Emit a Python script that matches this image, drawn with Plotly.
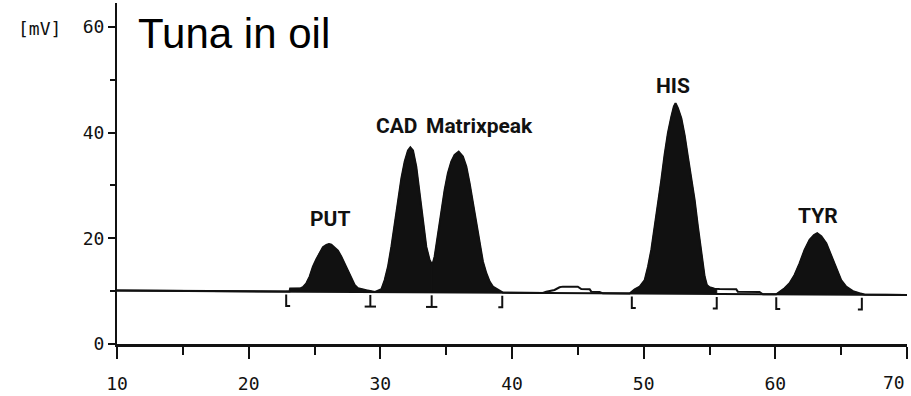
import numpy as np
import plotly.graph_objects as go

# Detector trace: retention time (min) and signal (mV)
time_min = [
    10.0, 23.1, 23.15, 23.95, 24.12, 24.38, 24.63, 24.88, 25.14, 25.39, 25.64,
    25.9, 26.1, 26.28, 26.53, 26.78, 27.04, 27.29, 27.54, 27.8, 28.05, 28.3,
    28.56, 28.94, 29.6, 30.08, 30.33, 30.58, 30.84, 31.09, 31.34, 31.6, 31.85,
    32.1, 32.28, 32.48, 32.73, 32.98, 33.24, 33.49, 33.74, 33.95, 34.12, 34.37,
    34.63, 34.88, 35.13, 35.39, 35.64, 35.95, 36.27, 36.53, 36.78, 37.03, 37.29,
    37.54, 37.79, 38.05, 38.3, 38.55, 38.93, 39.31, 42.35, 42.6, 43.23, 43.61,
    43.86, 45.0, 45.26, 45.9, 46.02, 46.65, 46.9, 48.93, 49.32, 49.7, 50.08,
    50.33, 50.58, 50.83, 51.08, 51.34, 51.59, 51.84, 52.1, 52.29, 52.42, 52.6,
    52.86, 53.11, 53.36, 53.62, 53.87, 54.12, 54.38, 54.63, 54.8, 55.0, 55.38,
    55.76, 57.03, 57.15, 58.8, 59.05, 60.07, 60.32, 60.7, 61.08, 61.46, 61.84,
    62.22, 62.6, 62.93, 63.18, 63.49, 63.87, 64.25, 64.63, 65.0, 65.38, 65.89,
    66.39, 66.77, 70.0,
]
signal_mv = [
    10.1, 9.95, 10.5, 10.55, 10.73, 11.48, 12.74, 14.63, 16.02, 17.28, 18.29,
    18.73, 18.92, 18.8, 18.29, 17.65, 16.52, 15.27, 14.0, 12.43, 11.16, 10.54,
    10.35, 10.16, 9.83, 10.35, 12.1, 14.6, 18.4, 22.8, 27.2, 31.35, 34.5,
    36.6, 37.2, 36.6, 33.55, 28.5, 22.8, 18.4, 15.9, 14.95, 16.5, 20.95,
    25.35, 29.1, 32.3, 34.5, 35.75, 36.4, 35.45, 33.55, 30.4, 26.6, 22.8,
    19.05, 15.6, 13.4, 11.8, 10.85, 10.2, 9.72, 9.64, 9.9, 10.22, 10.73,
    10.85, 10.85, 10.4, 10.35, 9.9, 9.84, 9.58, 9.57, 10.35, 10.85, 12.1,
    14.6, 17.8, 21.9, 26.3, 31.0, 35.8, 39.9, 43.0, 44.9, 45.55, 44.6,
    42.7, 39.5, 35.4, 31.35, 27.25, 22.2, 17.15, 12.75, 11.16, 10.73, 10.46,
    10.4, 10.35, 9.9, 9.85, 9.42, 9.42, 9.9, 10.54, 11.48, 13.06, 15.27,
    17.8, 19.7, 20.6, 20.95, 20.4, 19.05, 16.8, 14.3, 12.1, 10.85, 10.0,
    9.6, 9.35, 9.25,
]

# Straight baseline under the integrated peaks
baseline_time = [10.0, 70.0]
baseline_mv = [10.1, 9.25]

# Integrated peaks: name, window and label anchor
peak_names = ["PUT", "CAD", "Matrixpeak", "HIS", "TYR"]
window_start = [22.85, 29.24, 33.9, 49.1, 60.07]
window_end = [29.24, 33.9, 39.26, 55.55, 66.57]
label_time = [26.15, 31.88, 37.96, 52.2, 63.24]
label_mv = [23.65, 41.15, 41.15, 48.8, 24.2]

# Integration marks drawn under the baseline
mark_time = [22.85, 29.24, 33.9, 39.26, 49.1, 55.55, 60.07, 66.57]
mark_kind = ["start", "split", "split", "end", "start", "end", "start", "end"]

# Axis ticks
x_ticks = [10, 20, 30, 40, 50, 60, 70]
y_ticks = [0, 20, 40, 60]

INK = "#111111"
LABEL_FONT = "Roboto, Liberation Sans, Arial"
TICK_FONT = dict(family="DejaVu Sans Mono", size=18, color=INK)
t = np.array(time_min)
s = np.array(signal_mv)


def base_at(x):
    return np.interp(x, baseline_time, baseline_mv)


fig = go.Figure()

# Filled area between signal and baseline for each integration window
for ws, we in zip(window_start, window_end):
    inside = (t > ws) & (t < we)
    xs = [ws, ws] + t[inside].tolist() + [we, we]
    ys = [base_at(ws), np.interp(ws, t, s)] + s[inside].tolist() + [np.interp(we, t, s), base_at(we)]
    fig.add_trace(go.Scatter(x=xs, y=ys, mode="lines", fill="toself",
                             fillcolor=INK, line=dict(color=INK, width=1),
                             hoverinfo="skip", showlegend=False))

# Signal trace
fig.add_trace(go.Scatter(x=time_min, y=signal_mv, mode="lines",
                         line=dict(color=INK, width=2), showlegend=False))

# Baseline
fig.add_trace(go.Scatter(x=baseline_time, y=baseline_mv, mode="lines",
                         line=dict(color=INK, width=2), showlegend=False))

# Integration marks
mx, my = [], []
for tm, kind in zip(mark_time, mark_kind):
    top = base_at(tm) - 0.55
    bot = base_at(tm) - 2.75
    if kind == "start":
        mx += [tm, tm, tm + 0.3, None]
        my += [top, bot, bot, None]
    elif kind == "end":
        mx += [tm, tm, tm - 0.3, None]
        my += [top, bot, bot, None]
    else:
        mx += [tm, tm, None, tm - 0.43, tm + 0.43, None]
        my += [top, bot, None, bot, bot, None]
fig.add_trace(go.Scatter(x=mx, y=my, mode="lines",
                         line=dict(color=INK, width=2), showlegend=False,
                         hoverinfo="skip"))

# Peak names (the two close labels are anchored on their facing edges)
anchors = {"CAD": ("right", 33.03), "Matrixpeak": ("left", 33.33)}
for name, lt, lv in zip(peak_names, label_time, label_mv):
    xa, xpos = anchors.get(name, ("center", lt))
    fig.add_annotation(x=xpos, y=lv, text=f"<b>{name}</b>", showarrow=False,
                       xanchor=xa, yanchor="middle",
                       font=dict(family=LABEL_FONT, size=21, color=INK))

# Sample title and unit
fig.add_annotation(x=11.42, y=58.7, text="Tuna in oil", showarrow=False,
                   xanchor="left", yanchor="middle",
                   font=dict(family="Liberation Sans, Arial", size=42, color="#000000"))
fig.add_annotation(xref="paper", yref="y", x=-0.098, y=59.6, text="[mV]",
                   showarrow=False, xanchor="center", yanchor="middle",
                   font=dict(family="DejaVu Sans Mono", size=18, color=INK))

# The last time label sits flush against its tick at the right edge
tick_text = [str(v) for v in x_ticks]
tick_text[-1] = ""
fig.add_annotation(x=x_ticks[-1], xref="x", yref="paper", y=-0.114,
                   text=str(x_ticks[-1]), showarrow=False,
                   xanchor="right", yanchor="middle", font=TICK_FONT)

fig.update_xaxes(range=[10, 70], tickvals=x_ticks, ticktext=tick_text,
                 ticks="outside", ticklen=12, tickwidth=2, tickcolor=INK,
                 showline=True, linewidth=2.5, linecolor=INK,
                 showgrid=False, zeroline=False, ticklabelstandoff=10,
                 automargin=False,
                 minor=dict(dtick=5, tick0=10, ticks="outside", ticklen=8,
                            tickwidth=1.5, tickcolor=INK),
                 tickfont=TICK_FONT)
fig.update_yaxes(range=[0, 64.5], tickvals=y_ticks, automargin=False,
                 ticks="outside", ticklen=7, tickwidth=2, tickcolor=INK,
                 showline=True, linewidth=2, linecolor=INK,
                 showgrid=False, zeroline=False,
                 minor=dict(dtick=10, tick0=0, ticks="outside", ticklen=5,
                            tickwidth=1.5, tickcolor=INK),
                 tickfont=TICK_FONT)

fig.update_layout(width=911, height=396,
                  margin=dict(l=117, r=4, t=3, b=52),
                  paper_bgcolor="white", plot_bgcolor="white",
                  showlegend=False)

fig.write_html("out.html")
